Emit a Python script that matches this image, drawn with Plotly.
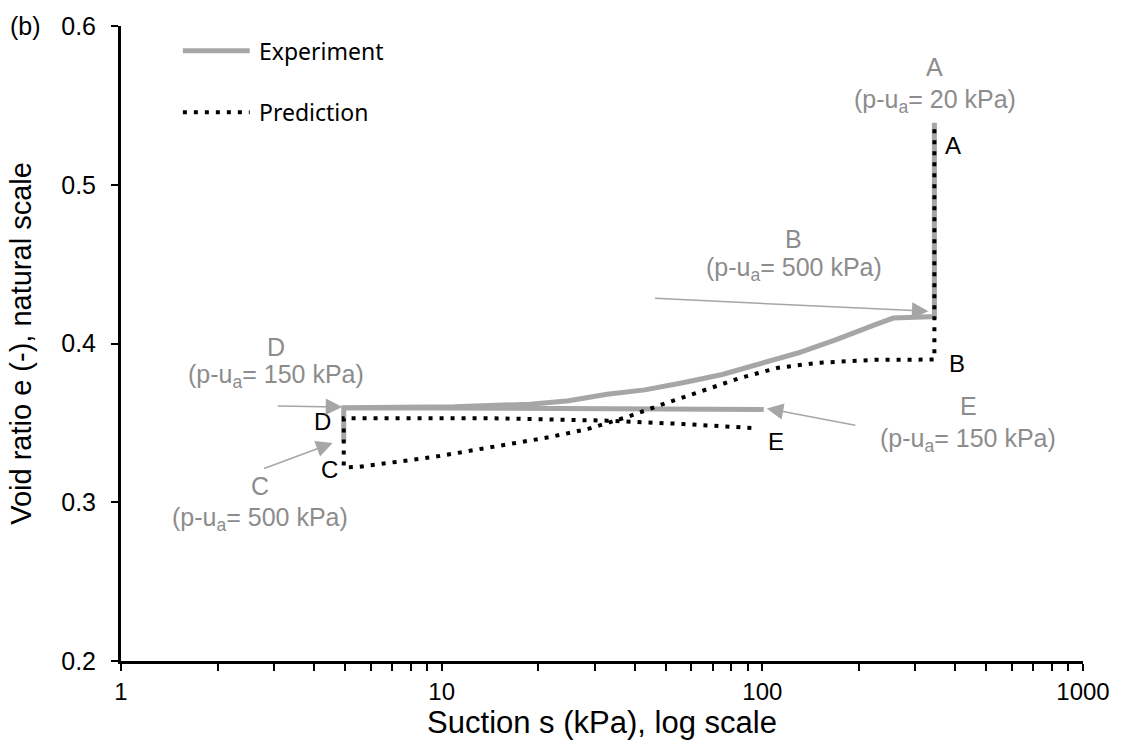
import numpy as np
import plotly.graph_objects as go

# ---------------- data ----------------
# Experiment path A -> B -> C -> D -> E
exp_s = [344, 344, 300, 256, 224, 170, 129, 98, 75, 56.5, 43, 32.8, 24.9, 18.9, 11, 4.95,
         4.95, 4.95, 10, 20, 40, 60, 80, 101]
exp_e = [0.539, 0.417, 0.4165, 0.416, 0.4117, 0.4024, 0.394, 0.3868, 0.3805, 0.3753, 0.3708, 0.368,
         0.3639, 0.3618, 0.3602, 0.3595,
         0.338, 0.3595, 0.3594, 0.3593, 0.3592, 0.3590, 0.3588, 0.3585]

# Prediction path A -> B -> C -> D -> E
pred_s = [344, 344, 300, 224, 148, 112, 86, 65, 49, 37.6, 28.6, 21.7, 16.5, 12.6, 9.5, 7.2, 5.5, 4.95,
          4.95, 14.4, 32.8, 56.5, 96]
pred_e = [0.535, 0.390, 0.3898, 0.3897, 0.3878, 0.3847, 0.3785, 0.3704, 0.3618, 0.3535, 0.3462, 0.341,
          0.3368, 0.333, 0.3286, 0.3254, 0.3223, 0.322,
          0.3529, 0.3529, 0.3514, 0.3493, 0.3466]

x_ticks = [1, 10, 100, 1000]
x_tick_labels = ["1", "10", "100", "1000"]
y_ticks = [0.2, 0.3, 0.4, 0.5, 0.6]
y_tick_labels = ["0.2", "0.3", "0.4", "0.5", "0.6"]

GRAY_LINE = "#a6a6a6"
GRAY_TEXT = "#8c8c8c"
FONT = "Arial, Liberation Sans, sans-serif"
DOT = "4px,7px"

fig = go.Figure()
fig.add_trace(go.Scatter(x=exp_s, y=exp_e, mode="lines", name="Experiment",
                         line=dict(color=GRAY_LINE, width=5), showlegend=False))
fig.add_trace(go.Scatter(x=pred_s, y=pred_e, mode="lines", name="Prediction",
                         line=dict(color="black", width=4, dash=DOT), showlegend=False))

minor_vals = [m * d for d in (1, 10, 100) for m in range(2, 10)]

fig.update_layout(
    width=1122, height=747,
    margin=dict(l=121, r=37, t=20, b=86),
    plot_bgcolor="white", paper_bgcolor="white",
    font=dict(family=FONT, color="black"),
    xaxis=dict(type="log", range=[0, 3], tickvals=x_ticks, ticktext=x_tick_labels,
               showgrid=False, zeroline=False, showline=True, linecolor="black", linewidth=3,
               ticks="outside", ticklen=7, tickwidth=2, tickcolor="black",
               tickfont=dict(size=24, family=FONT),
               minor=dict(tickvals=minor_vals, ticks="outside", ticklen=7, tickwidth=2,
                          tickcolor="black", showgrid=False),
               title=dict(text="Suction s (kPa), log scale", font=dict(size=31, family=FONT),
                          standoff=6)),
    yaxis=dict(range=[0.2, 0.6], tickvals=y_ticks, ticktext=y_tick_labels,
               showgrid=False, zeroline=False, showline=True, linecolor="black", linewidth=3,
               ticks="outside", ticklen=7, tickwidth=2, tickcolor="black",
               tickfont=dict(size=25, family=FONT), ticklabelstandoff=10,
               title=dict(text="Void ratio e (-), natural scale", font=dict(size=29, family=FONT),
                          standoff=22)),
)

ann = []
def txt(x, y, t, color, size=25, xref="x", yref="y", xanchor="center"):
    ann.append(dict(x=x, y=y, xref=xref, yref=yref, text=t, showarrow=False,
                    font=dict(size=size, color=color, family=FONT), xanchor=xanchor, yanchor="middle"))

def arrow(x, y, ax, ay):
    ann.append(dict(x=x, y=y, xref="x", yref="y", text="", showarrow=True, ax=ax, ay=ay,
                    arrowhead=2, arrowsize=2.2, arrowwidth=1.5, arrowcolor=GRAY_LINE, standoff=0))

pu = "(p-u<sub>a</sub>= %s kPa)"
# gray labels
txt(2.537, 0.5740, "A", GRAY_TEXT)
txt(2.537, 0.5530, pu % "20", GRAY_TEXT)
txt(2.098, 0.4656, "B", GRAY_TEXT)
txt(2.098, 0.4470, pu % "500", GRAY_TEXT)
txt(0.482, 0.3976, "D", GRAY_TEXT)
txt(0.482, 0.3797, pu % "150", GRAY_TEXT)
txt(0.433, 0.3102, "C", GRAY_TEXT)
txt(0.433, 0.2892, pu % "500", GRAY_TEXT)
txt(2.642, 0.3608, "E", GRAY_TEXT)
txt(2.642, 0.3392, pu % "150", GRAY_TEXT)
# black point labels
txt(2.596, 0.525, "A", "black", size=24)
txt(2.608, 0.3873, "B", "black", size=24)
txt(0.629, 0.3508, "D", "black", size=24)
txt(0.650, 0.3205, "C", "black", size=24)
txt(2.042, 0.3383, "E", "black", size=24)
# arrows
arrow(2.518, 0.4203, -275, -13)
arrow(0.690, 0.3600, -66, -1)
arrow(0.660, 0.3373, -70, 26)
arrow(2.014, 0.3591, 90, 17)

# panel label
txt(-0.0996, 1.0, "(b)", "black", size=25, xref="paper", yref="paper")

# manual legend
LEG = "Noto Sans, Open Sans, sans-serif"
ann.append(dict(x=0.141, y=0.961, xref="paper", yref="paper", text="Experiment", showarrow=False,
                xanchor="left", yanchor="middle", font=dict(size=23, family=LEG, color="black")))
ann.append(dict(x=0.141, y=0.864, xref="paper", yref="paper", text="Prediction", showarrow=False,
                xanchor="left", yanchor="middle", font=dict(size=23, family=LEG, color="black")))
fig.update_layout(annotations=ann)
fig.add_shape(type="line", xref="paper", yref="paper", x0=0.0643, x1=0.1338, y0=0.961, y1=0.961,
              line=dict(color=GRAY_LINE, width=5))
fig.add_shape(type="line", xref="paper", yref="paper", x0=0.0643, x1=0.1338, y0=0.864, y1=0.864,
              line=dict(color="black", width=4, dash=DOT))

fig.write_html("out.html")
